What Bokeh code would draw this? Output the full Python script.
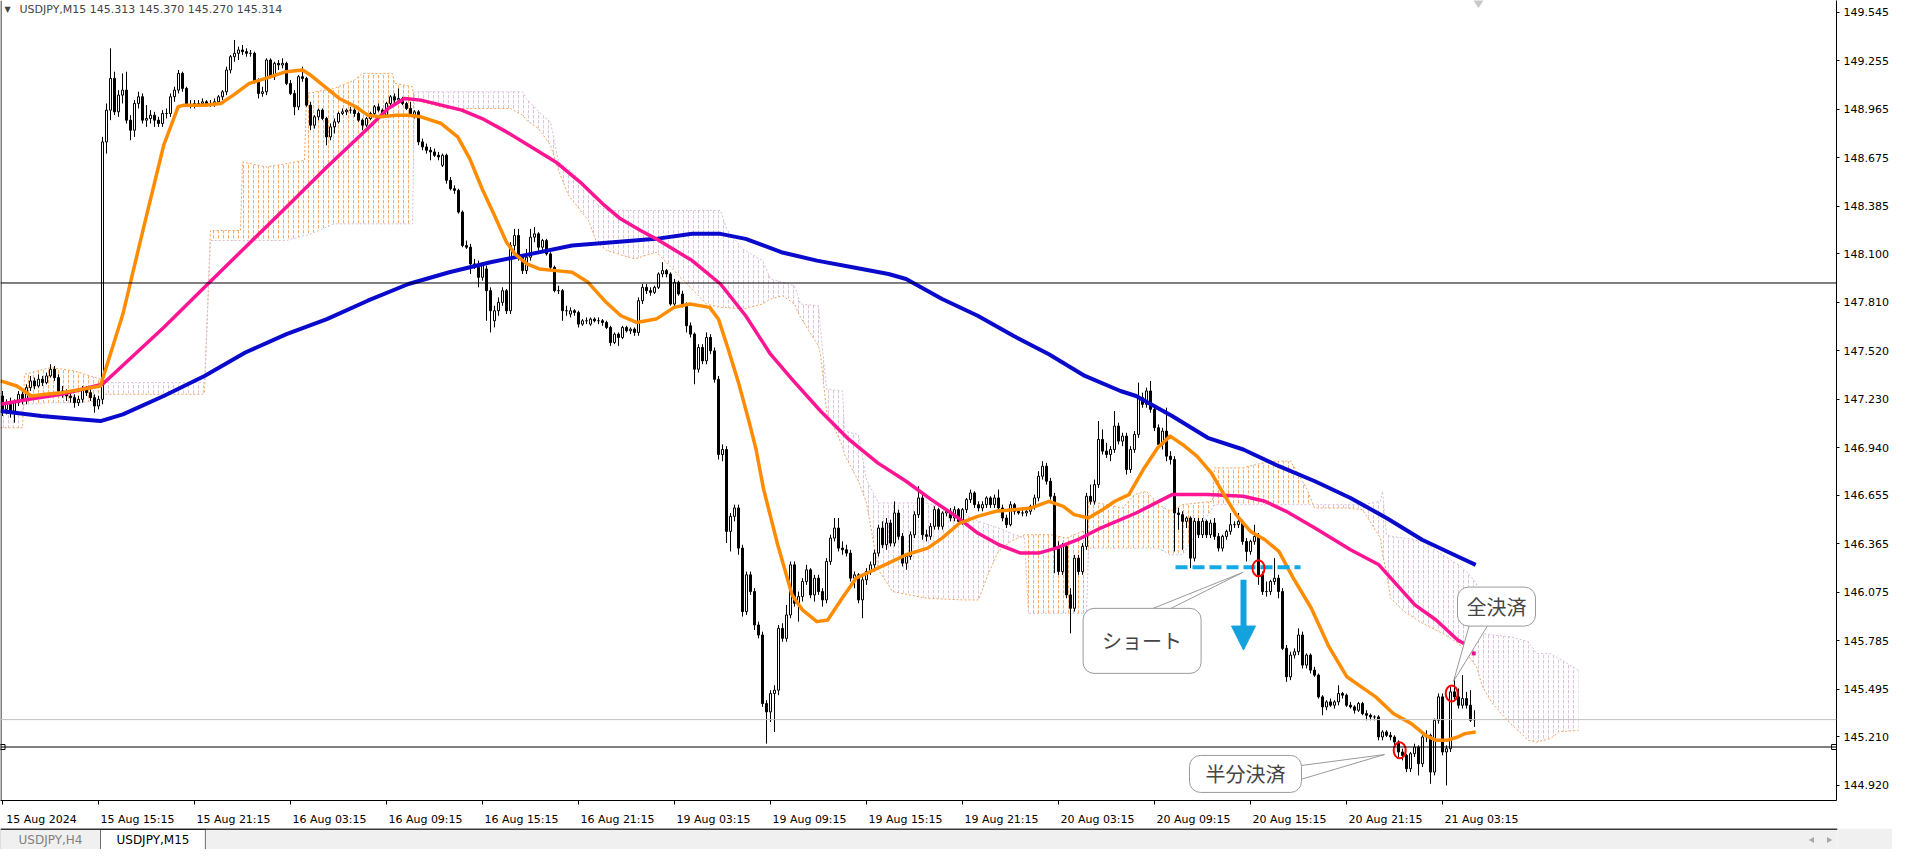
import numpy as np
from bokeh.plotting import figure
from bokeh.layouts import column
from bokeh.models import (Range1d, FixedTicker, PrintfTickFormatter, Span, Label,
                          Arrow, NormalHead, LinearAxis)
from bokeh.embed import file_html
from bokeh.resources import INLINE
from bokeh.core.properties import value

# ---------------- data ----------------
title_text = "USDJPY,M15  145.313 145.370 145.270 145.314"

opens = [
    147.25,147.17,147.20,147.16,147.21,147.26,147.22,147.30,147.34,147.31,
    147.35,147.33,147.37,147.41,147.36,147.28,147.27,147.25,147.24,147.21,
    147.23,147.29,147.27,147.24,147.19,
    147.23,148.77,148.96,149.15,148.95,149.05,149.08,148.90,148.84,149.00,
    149.04,148.90,148.91,148.93,148.90,148.88,148.94,148.94,149.04,149.08,
    149.18,149.09,148.99,148.99,149.00,149.00,149.01,148.99,149.00,149.01,
    149.04,149.07,149.20,149.28,149.30,149.32,149.31,149.30,149.30,149.13,
    149.06,149.07,149.26,149.16,149.24,149.23,149.24,149.12,149.06,148.98,
    149.16,149.15,148.99,148.87,148.92,148.96,148.91,148.80,148.86,148.89,
    148.94,148.95,148.96,148.96,148.94,148.90,148.87,148.91,148.94,148.98,
    148.96,148.93,149.00,149.04,149.02,149.03,149.00,148.97,148.93,148.95,
    148.77,148.74,148.72,148.71,148.69,148.63,148.69,148.54,148.49,148.48,
    148.35,148.15,148.14,148.04,148.02,147.96,148.01,147.88,147.70,147.76,
    147.81,147.88,147.76,148.15,148.21,148.08,148.00,148.08,148.20,148.22,
    148.14,148.18,148.10,148.02,147.88,147.88,147.76,147.74,147.76,147.75,
    147.68,147.70,147.68,147.71,147.70,147.70,147.69,147.66,147.57,147.62,
    147.60,147.66,147.64,147.65,147.63,
    147.82,147.90,147.88,147.87,147.90,147.98,148.00,147.98,147.80,147.93,
    147.86,147.80,147.67,147.62,147.41,147.54,147.46,147.60,147.52,147.35,
    146.90,146.93,146.44,146.53,146.58,146.34,145.96,146.18,146.08,145.88,
    145.82,145.41,145.36,145.47,145.49,145.86,145.80,145.94,146.24,146.01,
    146.05,146.14,146.21,146.06,146.16,146.08,146.03,146.26,146.40,146.46,
    146.34,146.33,146.31,146.16,146.18,146.03,146.15,146.20,146.24,146.31,
    146.46,146.36,146.49,146.37,146.55,146.41,146.25,146.29,146.42,146.54,
    146.64,146.42,146.41,146.47,146.57,146.47,146.55,146.56,146.52,146.57,
    146.50,146.57,146.63,146.67,146.60,146.58,146.60,146.64,146.60,146.64,
    146.58,146.52,146.48,146.60,146.56,146.55,146.55,146.56,146.59,146.64,
    146.77,146.83,146.74,146.65,146.34,146.20,146.35,146.06,145.98,146.28,
    146.20,146.35,146.65,146.62,146.72,146.99,146.92,146.90,146.93,147.07,
    146.98,147.01,146.81,146.93,147.02,147.24,147.20,147.28,147.17,147.06,
    146.96,147.04,146.89,146.87,146.55,146.54,146.50,146.52,146.28,146.50,
    146.42,146.50,146.42,146.49,146.41,146.34,146.41,146.44,146.48,146.48,
    146.50,146.38,146.32,146.38,146.41,146.18,146.08,146.08,146.14,146.16,
    146.08,145.74,145.57,145.70,145.72,145.82,145.64,145.70,145.61,145.58,
    145.45,145.39,145.42,145.40,145.42,145.47,145.46,145.40,145.39,145.37,
    145.41,145.35,145.34,145.33,145.33,145.21,145.24,145.22,145.21,145.18,
    145.12,145.10,145.02,145.11,145.15,145.05,145.21,145.22,145.00,145.31,
    145.45,145.12,145.14,145.48,145.45,145.40,145.44,145.40,145.313,
]
highs = [
    147.28,147.23,147.24,147.23,147.28,147.29,147.32,147.37,147.36,147.38,
    147.37,147.39,147.44,147.43,147.38,147.31,147.29,147.27,147.26,147.25,
    147.31,147.31,147.29,147.26,147.25,
    148.80,149.00,149.33,149.19,149.08,149.18,149.19,148.93,149.02,149.07,
    149.06,148.99,148.96,148.95,148.92,148.96,148.97,149.06,149.10,149.20,
    149.19,149.10,149.02,149.02,149.02,149.03,149.02,149.02,149.03,149.05,
    149.08,149.22,149.29,149.38,149.34,149.35,149.33,149.32,149.31,149.15,
    149.10,149.27,149.27,149.25,149.26,149.27,149.25,149.14,149.08,149.17,
    149.22,149.16,149.01,148.93,148.97,148.97,148.92,148.88,148.91,148.95,
    148.97,148.97,148.98,148.97,148.95,148.91,148.92,148.95,148.99,149.00,
    148.97,149.01,149.05,149.06,149.09,149.04,149.01,149.01,148.96,148.96,
    148.79,148.76,148.74,148.73,148.71,148.70,148.70,148.56,148.51,148.49,
    148.36,148.18,148.16,148.07,148.06,148.05,148.03,147.90,147.79,147.84,
    147.90,147.89,148.17,148.25,148.25,148.09,148.13,148.25,148.26,148.23,
    148.19,148.19,148.11,148.03,147.91,147.89,147.79,147.78,147.77,147.76,
    147.71,147.72,147.72,147.72,147.72,147.71,147.70,147.67,147.63,147.63,
    147.67,147.67,147.66,147.66,147.84,
    147.92,147.92,147.90,147.91,147.99,148.05,148.01,147.99,147.95,147.94,
    147.88,147.81,147.69,147.63,147.56,147.56,147.63,147.62,147.54,147.37,
    146.96,146.95,146.55,146.60,146.60,146.36,146.20,146.20,146.10,145.90,
    145.84,145.43,145.49,145.52,145.88,145.89,146.00,146.26,146.26,146.08,
    146.16,146.24,146.22,146.18,146.18,146.10,146.28,146.42,146.52,146.52,
    146.38,146.36,146.33,146.20,146.19,146.17,146.22,146.26,146.33,146.48,
    146.50,146.52,146.51,146.62,146.57,146.43,146.31,146.44,146.56,146.71,
    146.66,146.45,146.49,146.59,146.58,146.56,146.58,146.58,146.59,146.58,
    146.58,146.64,146.69,146.68,146.62,146.62,146.65,146.65,146.66,146.69,
    146.60,146.54,146.62,146.61,146.58,146.57,146.58,146.60,146.66,146.80,
    146.86,146.85,146.76,146.67,146.38,146.37,146.36,146.10,146.30,146.30,
    146.37,146.67,146.72,146.75,147.10,147.05,146.97,146.95,147.16,147.09,
    147.03,147.03,146.95,147.04,147.33,147.27,147.30,147.34,147.19,147.08,
    147.06,147.18,146.92,146.89,146.58,146.56,146.53,146.53,146.52,146.52,
    146.52,146.51,146.51,146.52,146.43,146.42,146.45,146.55,146.50,146.55,
    146.51,146.40,146.39,146.48,146.43,146.20,146.14,146.15,146.28,146.18,
    146.10,145.76,145.72,145.74,145.86,145.84,145.71,145.71,145.63,145.59,
    145.46,145.43,145.44,145.43,145.52,145.48,145.47,145.42,145.40,145.42,
    145.42,145.37,145.35,145.34,145.34,145.25,145.25,145.24,145.22,145.19,
    145.14,145.11,145.12,145.17,145.16,145.22,145.25,145.23,145.32,145.47,
    145.47,145.16,145.51,145.57,145.50,145.58,145.48,145.49,145.370,
]
lows = [
    147.13,147.14,147.12,147.09,147.19,147.20,147.20,147.28,147.29,147.30,
    147.31,147.32,147.36,147.34,147.26,147.24,147.22,147.21,147.18,147.19,
    147.21,147.25,147.22,147.15,147.17,
    147.20,148.70,148.90,148.93,148.92,149.00,148.88,148.78,148.80,148.97,
    148.88,148.86,148.88,148.86,148.86,148.86,148.91,148.92,149.01,149.06,
    149.07,148.98,148.97,148.97,148.98,148.98,148.98,148.98,148.98,149.00,
    149.02,149.05,149.18,149.25,149.26,149.29,149.28,149.28,149.12,149.03,
    149.04,149.05,149.15,149.14,149.20,149.21,149.11,149.05,148.93,148.96,
    149.13,148.98,148.84,148.85,148.90,148.90,148.75,148.78,148.82,148.88,
    148.93,148.93,148.94,148.92,148.89,148.84,148.86,148.90,148.93,148.95,
    148.92,148.92,148.98,149.00,149.00,148.99,148.96,148.92,148.91,148.75,
    148.72,148.70,148.66,148.68,148.66,148.62,148.52,148.48,148.46,148.34,
    148.14,148.13,147.98,148.01,147.90,147.94,147.70,147.63,147.66,147.73,
    147.79,147.74,147.74,148.12,148.06,147.98,147.98,148.06,148.17,148.12,
    148.12,148.09,148.01,147.87,147.86,147.70,147.73,147.72,147.73,147.66,
    147.67,147.68,147.67,147.69,147.68,147.67,147.65,147.55,147.56,147.55,
    147.59,147.63,147.62,147.61,147.61,
    147.80,147.86,147.85,147.86,147.89,147.96,147.96,147.79,147.78,147.85,
    147.78,147.63,147.60,147.32,147.39,147.44,147.44,147.50,147.33,146.87,
    146.86,146.37,146.32,146.50,146.30,145.93,145.94,146.06,145.85,145.80,
    145.39,145.17,145.30,145.24,145.46,145.78,145.78,145.92,145.99,145.90,
    146.02,146.12,146.04,146.02,146.06,145.99,146.01,146.24,146.38,146.32,
    146.30,146.29,146.14,146.10,146.01,145.92,146.12,146.18,146.20,146.29,
    146.34,146.33,146.35,146.35,146.39,146.23,146.21,146.27,146.40,146.52,
    146.39,146.38,146.39,146.45,146.45,146.45,146.53,146.50,146.50,146.48,
    146.48,146.55,146.61,146.58,146.56,146.56,146.58,146.58,146.58,146.57,
    146.50,146.46,146.47,146.54,146.54,146.53,146.53,146.54,146.57,146.62,
    146.75,146.72,146.63,146.19,146.18,146.18,146.04,145.83,145.96,146.18,
    146.18,146.33,146.60,146.60,146.70,146.90,146.88,146.86,146.91,146.96,
    146.95,146.78,146.79,146.91,147.00,147.18,147.18,147.15,147.04,146.94,
    146.93,146.86,146.84,146.32,146.45,146.33,146.46,146.22,146.26,146.40,
    146.40,146.40,146.40,146.39,146.32,146.32,146.39,146.42,146.46,146.46,
    146.36,146.26,146.30,146.36,146.12,146.06,146.05,146.06,146.12,146.04,
    145.73,145.54,145.55,145.68,145.70,145.62,145.62,145.59,145.57,145.44,
    145.34,145.37,145.39,145.38,145.40,145.44,145.39,145.38,145.35,145.36,
    145.34,145.31,145.31,145.31,145.19,145.19,145.21,145.19,145.16,145.08,
    145.07,145.00,145.00,145.09,144.98,145.03,145.18,144.93,144.98,145.29,
    145.10,144.92,145.12,145.43,145.38,145.38,145.38,145.30,145.270,
]
closes = [
    147.17,147.20,147.16,147.21,147.26,147.22,147.30,147.34,147.31,147.35,
    147.33,147.37,147.41,147.36,147.28,147.27,147.25,147.24,147.21,147.23,
    147.29,147.27,147.24,147.19,147.23,
    148.77,148.96,149.15,148.95,149.05,149.08,148.90,148.84,149.00,149.04,
    148.90,148.91,148.93,148.90,148.88,148.94,148.94,149.04,149.08,149.18,
    149.09,148.99,148.99,149.00,149.00,149.01,148.99,149.00,149.01,149.04,
    149.07,149.20,149.28,149.30,149.32,149.31,149.30,149.30,149.13,149.06,
    149.07,149.26,149.16,149.24,149.23,149.24,149.12,149.06,148.98,149.16,
    149.15,148.99,148.87,148.92,148.96,148.91,148.80,148.86,148.89,148.94,
    148.95,148.96,148.96,148.94,148.90,148.87,148.91,148.94,148.98,148.96,
    148.93,149.00,149.04,149.02,149.03,149.00,148.97,148.93,148.95,148.77,
    148.74,148.72,148.71,148.69,148.68,148.69,148.54,148.49,148.48,148.35,
    148.15,148.14,148.04,148.02,147.96,148.03,147.88,147.76,147.76,147.81,
    147.88,147.76,148.15,148.21,148.08,148.00,148.08,148.20,148.22,148.14,
    148.18,148.10,148.02,147.88,147.88,147.76,147.76,147.76,147.75,147.68,
    147.70,147.70,147.71,147.70,147.70,147.69,147.66,147.57,147.62,147.60,
    147.66,147.64,147.65,147.63,147.82,
    147.90,147.88,147.87,147.90,147.98,148.00,147.98,147.80,147.93,147.86,
    147.80,147.67,147.62,147.41,147.54,147.46,147.60,147.52,147.35,146.90,
    146.93,146.44,146.53,146.58,146.34,145.96,146.18,146.08,145.88,145.82,
    145.41,145.36,145.47,145.49,145.86,145.80,145.94,146.24,146.01,146.05,
    146.14,146.21,146.06,146.16,146.08,146.03,146.26,146.40,146.46,146.34,
    146.33,146.31,146.16,146.18,146.03,146.15,146.20,146.24,146.31,146.46,
    146.36,146.49,146.37,146.55,146.41,146.25,146.29,146.42,146.54,146.64,
    146.42,146.41,146.47,146.57,146.47,146.55,146.56,146.52,146.57,146.50,
    146.57,146.63,146.67,146.60,146.58,146.60,146.64,146.60,146.64,146.58,
    146.52,146.48,146.60,146.56,146.55,146.55,146.56,146.59,146.64,146.77,
    146.83,146.74,146.65,146.34,146.20,146.35,146.06,145.98,146.28,146.20,
    146.35,146.65,146.62,146.72,146.99,146.92,146.90,146.93,147.07,146.98,
    147.01,146.81,146.93,147.02,147.24,147.20,147.28,147.17,147.06,146.96,
    147.04,146.89,146.87,146.55,146.54,146.50,146.52,146.28,146.50,146.42,
    146.50,146.42,146.49,146.41,146.34,146.41,146.44,146.48,146.48,146.50,
    146.38,146.32,146.38,146.41,146.18,146.08,146.08,146.14,146.16,146.08,
    145.74,145.57,145.70,145.72,145.82,145.64,145.70,145.61,145.58,145.45,
    145.39,145.42,145.40,145.42,145.47,145.46,145.40,145.39,145.37,145.41,
    145.35,145.34,145.33,145.33,145.21,145.24,145.22,145.21,145.18,145.12,
    145.10,145.02,145.11,145.15,145.05,145.21,145.22,145.00,145.31,145.45,
    145.12,145.14,145.48,145.45,145.40,145.44,145.40,145.31,145.314,
]

time_ticks = [0, 24, 48, 72, 96, 120, 144, 168, 192, 216, 240, 264, 288, 312, 336, 360]
time_labels = ["15 Aug 2024", "15 Aug 15:15", "15 Aug 21:15", "16 Aug 03:15",
               "16 Aug 09:15", "16 Aug 15:15", "16 Aug 21:15", "19 Aug 03:15",
               "19 Aug 09:15", "19 Aug 15:15", "19 Aug 21:15", "20 Aug 03:15",
               "20 Aug 09:15", "20 Aug 15:15", "20 Aug 21:15", "21 Aug 03:15"]
price_ticks = [149.545, 149.255, 148.965, 148.675, 148.385, 148.100, 147.810,
               147.520, 147.230, 146.940, 146.655, 146.365, 146.075, 145.785,
               145.495, 145.210, 144.920]

# moving averages (bar index, price)
ma_fast_x = [-0.5,3.6,7.2,10.7,14.8,19.9,24.5,25,30.1,35.2,40.3,43.9,45.4,50.5,54.6,57.7,61.7,65.8,
             70.9,75,77,81.1,84.2,88.3,91.3,94.4,98.5,101.5,104.6,109.7,113.8,116.8,119.9,123,126,
             128.1,131.1,134.2,138.3,142.4,146.4,150.5,154.6,158.5,163.4,167.9,171.9,176.8,179,
             181.3,184,186.6,188.4,190.2,192,193.8,195.6,197.4,200,203.6,206.3,209.9,213.4,217,
             221.5,225.9,231.3,234.9,239.3,243.8,248.3,252.7,257.2,261.6,265.2,267.9,271.5,275,
             278.1,281.6,285.2,288.8,291.9,295,298.6,302.2,304.9,308.4,312,315.6,319.1,322.7,
             327.2,331.6,336.1,339.7,343.3,347.7,352.2,355.8,358.4,361.1,363.8,365.6,368.3]
ma_fast_y = [147.34,147.31,147.25,147.26,147.27,147.29,147.31,147.35,147.74,148.25,148.75,148.98,
             148.99,148.99,149.00,149.05,149.12,149.15,149.19,149.20,149.17,149.09,149.03,148.98,
             148.93,148.92,148.93,148.93,148.92,148.88,148.80,148.67,148.49,148.33,148.17,148.10,
             148.04,148.01,148.00,147.99,147.93,147.82,147.73,147.69,147.71,147.78,147.80,147.78,
             147.71,147.54,147.33,147.10,146.93,146.70,146.53,146.36,146.21,146.06,145.97,145.90,
             145.91,146.04,146.16,146.20,146.25,146.30,146.34,146.40,146.49,146.53,146.56,146.57,
             146.58,146.62,146.59,146.54,146.52,146.57,146.62,146.66,146.81,146.94,147.01,146.96,
             146.89,146.79,146.68,146.54,146.44,146.39,146.32,146.16,145.98,145.75,145.57,145.51,
             145.45,145.35,145.29,145.22,145.19,145.19,145.21,145.23,145.24]
ma_mid_x = [-0.5,6.6,14.8,25,40.3,50.5,60.7,71,81.1,91.3,96.4,100.5,104.6,109.7,114.8,119.9,126,
            132.2,138.3,144.4,150.5,154.5,159.5,163.4,172.4,179.5,185.8,192,197.4,204.5,211.6,
            218.8,225.9,232.2,238.4,243.8,249.1,254.5,259,263.4,268.8,274.5,283.4,292.4,301.3,
            310.2,315.6,320.9,328.1,337,344.1,348.6,353.1,358.4,363.8,366.0]
ma_mid_y = [147.20,147.23,147.26,147.32,147.66,147.90,148.14,148.38,148.62,148.85,148.97,149.03,
            149.02,148.99,148.96,148.91,148.83,148.74,148.65,148.53,148.39,148.31,148.24,148.19,
            148.06,147.92,147.73,147.50,147.35,147.16,146.99,146.85,146.74,146.63,146.53,146.43,
            146.36,146.31,146.31,146.34,146.39,146.46,146.55,146.66,146.66,146.65,146.62,146.56,
            146.46,146.33,146.24,146.12,146.00,145.91,145.79,145.76]
ma_mid_last = (367.8, 145.71)
ma_slow_x = [-0.5,9.7,19.9,24.5,30.1,40.3,50.5,60.7,71,81.1,91.3,101.5,111.7,122,132.2,142.4,152.6,
             163.4,172.4,179.5,185.8,194.7,203.6,212.5,221.5,225.9,234.9,243.8,252.7,261.6,270.6,
             279.5,283.4,292.4,301.3,310.2,319.1,328.1,337,346,354.9,363.8,368.3]
ma_slow_y = [147.16,147.13,147.11,147.10,147.14,147.25,147.37,147.51,147.62,147.71,147.82,147.92,
             147.99,148.05,148.10,148.15,148.17,148.19,148.22,148.22,148.19,148.11,148.06,148.02,
             147.98,147.95,147.83,147.73,147.61,147.50,147.37,147.28,147.25,147.13,147.00,146.93,
             146.83,146.74,146.64,146.52,146.39,146.29,146.24]

# ichimoku cloud (senkou span A / B), shifted 26 bars ahead
cloud_x = [-0.5,5.0,5.5,12,18,24.5,25,50,50.5,52,59.5,60,66,71,75.5,76,83,88,90,97.5,98,102.5,
           103,111,127,130,131,134,137,139,141.5,146.5,148.5,151,158,163.5,169.5,176,179.5,181,
           185,190,192,195,198,199.5,204,204.5,206,210,210.5,214,216,219,222.5,231,240,244,
           246.5,249,252,255.5,256.5,262,266,271,271.5,276,280,283,286,289,292,295,302.5,303,
           310,317,322,326,328,336,340,344.5,345,346,347,350.5,355,360,364,366,368.5,370,
           372.5,377,381.5,383.5,387,389,394]
span_a = [147.06,147.06,147.38,147.42,147.40,147.35,147.26,147.26,147.27,148.24,148.24,148.65,
          148.62,148.64,148.66,149.06,149.09,149.14,149.18,149.18,149.12,149.10,149.02,148.97,
          148.97,148.93,148.90,148.85,148.75,148.60,148.45,148.30,148.17,148.12,148.07,148.11,
          147.96,147.80,147.78,147.78,147.77,147.80,147.83,147.85,147.80,147.72,147.55,147.50,
          147.16,146.95,146.90,146.74,146.61,146.21,146.08,146.04,146.03,146.03,146.19,146.32,
          146.38,146.42,146.42,146.42,146.40,146.45,146.62,146.60,146.58,146.66,146.68,146.60,
          146.56,146.60,146.62,146.82,146.82,146.86,146.86,146.70,146.58,146.58,146.57,146.40,
          146.30,146.20,146.04,145.96,145.89,145.83,145.77,145.71,145.63,145.51,145.41,145.29,
          145.19,145.18,145.20,145.24,145.25]
span_b = [147.16,147.16,147.20,147.21,147.21,147.22,147.33,147.33,147.33,148.18,148.18,148.18,
          148.18,148.18,148.21,148.21,148.28,148.28,148.28,148.28,148.28,148.28,149.07,149.07,
          149.07,149.07,149.03,148.95,148.89,148.65,148.61,148.49,148.40,148.36,148.36,148.36,
          148.36,148.36,148.36,148.25,148.13,148.06,147.95,147.93,147.91,147.80,147.79,147.65,
          147.29,147.28,147.04,147.02,146.75,146.61,146.61,146.61,146.55,146.50,146.48,146.46,
          146.43,146.40,145.95,145.95,145.95,145.95,146.34,146.34,146.34,146.34,146.34,146.34,
          146.30,146.30,146.58,146.60,146.60,146.60,146.60,146.60,146.60,146.60,146.60,146.62,
          146.68,146.42,146.41,146.40,146.38,146.30,146.24,146.20,146.13,145.83,145.82,145.81,
          145.78,145.71,145.71,145.68,145.61]

level_prices = [147.926, 145.150]
bid_price = 145.314
axis_boxes = [(147.926, "147.926"), (145.314, "145.314"), (145.150, "145.150")]

# trade annotations
entry_line_x = [293.25, 324.5]
entry_line_y = [146.225, 146.225]
mark_x = [314.0, 349.3, 362.3]
mark_y = [146.22, 145.13, 145.47]
arrow_x = 310.25
arrow_y = [146.15, 145.73]
callout_text = ["ショート", "半分決済", "全決済"]
callout_x = [284.9, 310.75, 373.5]
callout_y = [145.785, 144.989, 145.99]
callout_pad = [(19, 18), (16, 4), (9, 5)]
tail_xs = [[282.5, 288.0, 310.0], [323.0, 323.0, 345.5], [367.0, 372.0, 362.75]]
tail_ys = [[145.93, 145.93, 146.194], [145.034, 144.945, 145.105], [145.904, 145.904, 145.543]]

tab_labels = ["USDJPY,H4", "USDJPY,M15"]

# ---------------- figure ----------------
FW, FH = 1836, 800
n = len(closes)
x0 = -0.5
p = figure(frame_width=FW, frame_height=FH,
           x_range=Range1d(x0, x0 + FW / 4.0), y_range=Range1d(144.83, 149.616),
           y_axis_location="right", output_backend="svg", toolbar_location=None,
           min_border_left=0, min_border_right=4, min_border_top=0, min_border_bottom=0,
           background_fill_color="white", border_fill_color="white")
p.outline_line_color = None
p.grid.visible = False

yax = p.yaxis[0]
yax.ticker = FixedTicker(ticks=price_ticks)
yax.formatter = PrintfTickFormatter(format="%.3f")
yax.major_tick_out = 3
yax.major_tick_in = 0
yax.minor_tick_out = 0
yax.minor_tick_in = 0
yax.major_label_standoff = 4
yax.major_label_text_font = "DejaVu Sans"
yax.major_label_text_font_size = "11px"
yax.major_label_text_color = "black"
yax.axis_line_color = "black"

# bottom axis 1: the tick marks only
xax = p.xaxis[0]
xax.ticker = FixedTicker(ticks=time_ticks)
xax.major_label_overrides = {t: "" for t in time_ticks}
xax.major_label_text_font_size = "0px"
xax.major_label_standoff = 0
xax.major_tick_out = 4
xax.major_tick_in = 0
xax.minor_tick_out = 0
xax.minor_tick_in = 0
xax.axis_line_color = "black"
xax.axis_line_width = 1

# bottom axis 2: the labels, each starting at its tick (MT4 style)
label_shift = 9.75
label_pos = [t + label_shift for t in time_ticks]
lab_ax = LinearAxis(ticker=FixedTicker(ticks=label_pos),
                    major_label_overrides={lp: lb for lp, lb in zip(label_pos, time_labels)},
                    axis_line_color=None, major_tick_line_color=None,
                    minor_tick_line_color=None, major_label_standoff=2,
                    major_label_text_font="DejaVu Sans", major_label_text_font_size="11px",
                    major_label_text_color="black")
p.add_layout(lab_ax, "below")

p.add_layout(Span(location=x0 + 0.125, dimension="height", line_color="black", line_width=1))

# cloud
cx = np.array(cloud_x)
ca = np.array(span_a)
cb = np.array(span_b)
bull = (ca[:-1] + ca[1:]) >= (cb[:-1] + cb[1:])
start = 0
for j in range(1, len(bull) + 1):
    if j == len(bull) or bull[j] != bull[start]:
        sl = slice(start, j + 1)
        col = "#F4A460" if bull[start] else "#D8BFD8"
        p.varea(x=cx[sl], y1=ca[sl], y2=cb[sl], fill_color=None, fill_alpha=0,
                hatch_pattern=":", hatch_color=col, hatch_scale=5, hatch_weight=1,
                hatch_alpha=0.9)
        start = j
p.line(cx, ca, line_color="#F4A460", line_width=1, line_dash="2 2")
p.line(cx, cb, line_color="#D8BFD8", line_width=1, line_dash="2 2")

# levels
p.add_layout(Span(location=bid_price, dimension="width", line_color="#C0C0C0", line_width=1))
for lv in level_prices:
    p.add_layout(Span(location=lv, dimension="width", line_color="black", line_width=1))

# candles
idx = np.arange(n)
o = np.array(opens[:n])
c = np.array(closes[:n])
h = np.array(highs[:n])
l = np.array(lows[:n])
up = c >= o
p.segment(idx, l, idx, h, line_color="black", line_width=1)
p.vbar(x=idx[up], width=0.5, bottom=o[up], top=c[up], fill_color="white",
       line_color="black", line_width=1)
p.vbar(x=idx[~up], width=0.5, bottom=c[~up], top=o[~up], fill_color="black",
       line_color="black", line_width=1)

# moving averages
p.line(ma_slow_x, ma_slow_y, line_color="#0A0ACD", line_width=4, line_join="round")
p.line(ma_mid_x, ma_mid_y, line_color="#FF1493", line_width=3.5, line_join="round")
p.scatter([ma_mid_last[0]], [ma_mid_last[1]], marker="square", size=4,
          fill_color="#E0148C", line_color=None)
p.line(ma_fast_x, ma_fast_y, line_color="#FF8C00", line_width=3.5, line_join="round")

# squares on the 145.150 line ends
p.scatter([x0 + 0.5, x0 + FW / 4.0 - 0.6], [level_prices[1]] * 2, marker="square", size=5,
          fill_color="white", line_color="black", line_width=1)
# gray object marker at the top
p.scatter([369], [149.616], marker="diamond", size=15, fill_color="#C8C8C8", line_color=None)

# trade annotations
p.line(entry_line_x, entry_line_y, line_color="#13A8E6", line_width=4, line_dash="12 5")
p.ellipse(mark_x, mark_y, width=12, height=16, width_units="screen", height_units="screen",
          fill_alpha=0, line_color="red", line_width=2)
acol = "#14A2DE"
p.add_layout(Arrow(end=NormalHead(size=24, fill_color=acol, line_color=acol),
                   x_start=arrow_x, y_start=arrow_y[0], x_end=arrow_x, y_end=arrow_y[1],
                   line_color=acol, line_width=6))
p.patches(tail_xs, tail_ys, fill_color="white", line_color="#9A9A9A", line_width=1)

for txt, xx, yy, (ph, pv) in zip(callout_text, callout_x, callout_y, callout_pad):
    pad = dict(left=ph, right=ph, top=pv, bottom=pv)
    p.add_layout(Label(x=xx, y=yy, x_offset=2, y_offset=-3, text=txt, text_alpha=0,
                       text_font="Noto Sans CJK JP", text_font_size="20px",
                       text_align="center", text_baseline="middle",
                       background_fill_color="black", background_fill_alpha=0.13,
                       padding=pad, border_radius=11))
    p.add_layout(Label(x=xx, y=yy, text=txt, text_color="#454545",
                       text_font="Noto Sans CJK JP", text_font_size="20px",
                       text_align="center", text_baseline="middle",
                       background_fill_color="white", border_line_color="#9A9A9A",
                       border_line_width=1, padding=pad, border_radius=11))

# title
p.add_layout(Label(x=4, y=FH - 9, x_units="screen", y_units="screen", text="▼",
                   text_font="DejaVu Sans", text_font_size="8px", text_baseline="middle"))
p.add_layout(Label(x=19, y=FH - 9, x_units="screen", y_units="screen", text=title_text,
                   text_font="DejaVu Sans", text_font_size="11px", text_baseline="middle"))

# price boxes on the axis
for pr, txt in axis_boxes:
    p.add_layout(Label(x=FW + 1, y=pr, x_units="screen", y_units="data", text=txt,
                       text_color="white", text_font="DejaVu Sans", text_font_size="11px",
                       text_baseline="middle", background_fill_color="black",
                       padding=dict(left=3, right=4, top=1, bottom=0)))

# ---------------- tab strip ----------------
TW = 1892
t = figure(width=TW, height=21, x_range=Range1d(0, TW), y_range=Range1d(0, 21),
           output_backend="svg", toolbar_location=None, min_border=0,
           background_fill_color="#F0F0F0", border_fill_color="#F0F0F0")
t.axis.visible = False
t.grid.visible = False
t.outline_line_color = None
t.quad(left=[0, 103], right=[103, 211], bottom=[-1, -1], top=[20, 20],
       fill_color=["#F0F0F0", "white"], line_color=["#C8C8C8", "#6E6E6E"], line_width=1)
t.line([0, TW], [20.5, 20.5], line_color="black", line_width=1.5)
t.text(x=[51.5, 157], y=[9.5, 9.5], text=tab_labels, text_align="center",
       text_baseline="middle", text_font=value("DejaVu Sans"), text_font_size="12px",
       text_color=["#808080", "black"])
t.scatter([TW - 26, TW - 9], [9.5, 9.5], marker="triangle", size=6,
          angle=[np.pi / 2, -np.pi / 2], fill_color="#A8A8A8", line_color=None)

layout = column(p, t, spacing=0)
open("out.html", "w").write(file_html(layout, INLINE))
